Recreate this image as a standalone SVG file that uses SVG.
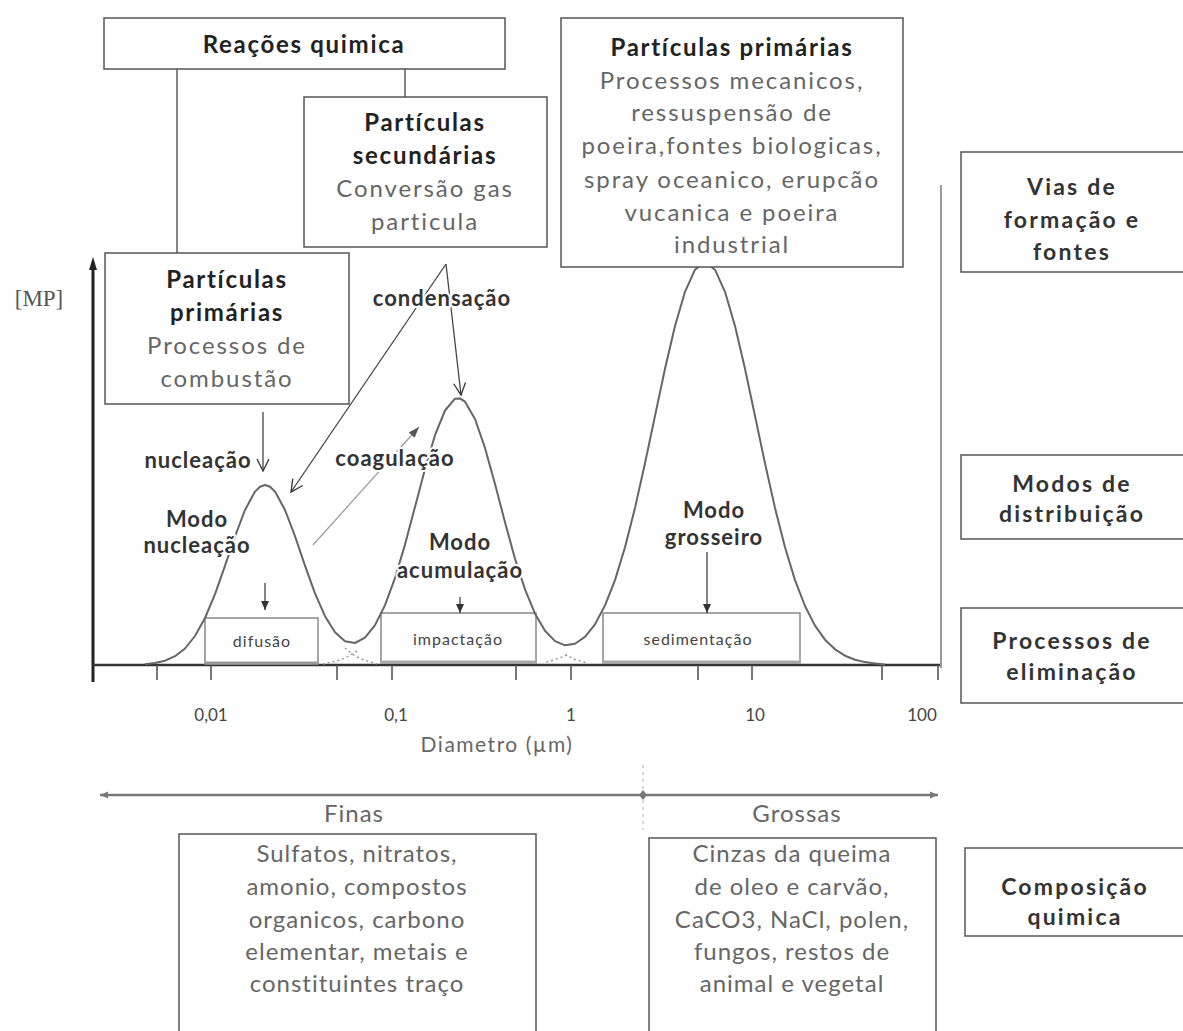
<svg xmlns="http://www.w3.org/2000/svg" width="1183" height="1031" viewBox="0 0 1183 1031">
<style>
  .box{fill:#fff;stroke:#555;stroke-width:1.5}
  .sbox{fill:#fff;stroke:#888;stroke-width:1.5}
  .t{font-family:Lato,"Liberation Sans",sans-serif;text-anchor:middle}
  .b{font-weight:bold;fill:#222;font-size:24px;letter-spacing:1.7px}
  .r{fill:#666;font-size:24px;letter-spacing:1.9px}
  .rb{fill:#666;font-size:24px;letter-spacing:1px}
  .lab{font-weight:bold;fill:#333;font-size:22px;letter-spacing:1px;paint-order:stroke;stroke:#fff;stroke-width:4px}
  .side{font-weight:bold;fill:#333;font-size:23px;letter-spacing:2.2px}
  .small{fill:#444;font-size:16px;letter-spacing:1px}
  .ax{fill:#444;font-size:17px}
  .ln{stroke:#444;stroke-width:1.3;fill:none}
  .tick{stroke:#555;stroke-width:1.6}
</style>
<defs>
  <marker id="fill" markerWidth="10" markerHeight="10" refX="9" refY="5" orient="auto" markerUnits="userSpaceOnUse">
    <path d="M0,1 L9,5 L0,9 Z" fill="#333"/>
  </marker>
  <marker id="open" markerWidth="14" markerHeight="14" refX="13" refY="7" orient="auto" markerUnits="userSpaceOnUse">
    <path d="M1,1 L13,7 L1,13" fill="none" stroke="#333" stroke-width="1.3"/>
  </marker>
  <marker id="grey" markerWidth="12" markerHeight="12" refX="11" refY="6" orient="auto" markerUnits="userSpaceOnUse">
    <path d="M0,2 L11,6 L0,10 Z" fill="#555"/>
  </marker>
  <marker id="end2" markerWidth="10" markerHeight="10" refX="8" refY="5" orient="auto-start-reverse" markerUnits="userSpaceOnUse">
    <path d="M0,1.5 L8,5 L0,8.5 Z" fill="#777"/>
  </marker>
</defs>
<rect width="1183" height="1031" fill="#fff"/>

<!-- axes -->
<g id="axes">
  <line x1="93" y1="266" x2="93" y2="682" stroke="#222" stroke-width="3"/>
  <path d="M93,257 L89,270 L97,270 Z" fill="#222"/>
  <line x1="93" y1="665" x2="941" y2="665" stroke="#333" stroke-width="2.5"/>
  <line x1="941" y1="185" x2="941" y2="668" stroke="#999" stroke-width="2"/>
  <g class="tick">
    <line x1="157" y1="665" x2="157" y2="680"/>
    <line x1="211" y1="665" x2="211" y2="680"/>
    <line x1="337" y1="665" x2="337" y2="680"/>
    <line x1="392" y1="665" x2="392" y2="680"/>
    <line x1="516" y1="665" x2="516" y2="680"/>
    <line x1="571" y1="665" x2="571" y2="680"/>
    <line x1="698" y1="665" x2="698" y2="680"/>
    <line x1="752" y1="665" x2="752" y2="680"/>
    <line x1="882" y1="665" x2="882" y2="680"/>
    <line x1="938" y1="665" x2="938" y2="680"/>
  </g>
  <text class="t ax" x="211" y="721">0,01</text>
  <text class="t ax" x="396" y="721">0,1</text>
  <text class="t ax" x="571" y="721">1</text>
  <text class="t ax" x="755" y="721">10</text>
  <text class="t ax" x="922" y="721">100</text>
  <text class="t" x="497" y="752" font-size="21" fill="#666" letter-spacing="1.5">Diametro (µm)</text>
  <text x="39" y="306" font-family="'Liberation Serif',serif" font-size="23" fill="#555" text-anchor="middle">[MP]</text>
</g>

<!-- removal boxes -->
<g id="difusao">
  <rect class="sbox" x="205" y="618" width="113" height="46"/>
  <line x1="205" y1="663" x2="318" y2="663" stroke="#999" stroke-width="3"/>
  <text class="t small" x="262" y="647">difusão</text>
</g>
<g id="impactacao">
  <rect class="sbox" x="381" y="613" width="155" height="50"/>
  <line x1="381" y1="662" x2="536" y2="662" stroke="#aaa" stroke-width="3"/>
  <text class="t small" x="458" y="645">impactação</text>
</g>
<g id="sedimentacao">
  <rect class="sbox" x="603" y="613" width="197" height="50"/>
  <line x1="603" y1="662" x2="800" y2="662" stroke="#aaa" stroke-width="3"/>
  <text class="t small" x="698" y="645">sedimentação</text>
</g>

<!-- distribution curve -->
<g id="curve">
  <polyline fill="none" stroke="#666" stroke-width="2" stroke-linejoin="round" points="145,664.2 155,663 165,660.7 175,656.2 185,648.5 195,636 205,618 215,594.2 225,565.9 235,536.3 245,510 255,491.6 260,486.7 265,485 270,486.7 275,491.6 285,510 295,536.2 305,565.6 315,593.4 325,616.2 335,632.3 345,641.3 355,643 365,637.7 375,625.1 385,605.2 395,578 405,544.6 415,506.9 425,469 435,435.2 445,410.5 455,398.7 460,398.4 465,401.7 475,419 485,447.9 495,483.9 505,522.2 515,558.7 525,589.4 535,613.7 545,630.8 555,641.1 565,645.3 575,643.8 585,636.9 595,624.3 605,605.4 615,580.1 625,547.2 635,507.9 645,463.3 655,415.9 665,368.7 675,326 685,291.8 695,269.7 705,262 715,269.7 725,291.8 735,326 745,368.7 755,415.9 765,463.3 775,507.9 785,547.2 795,580.1 805,606 815,625.6 825,639.7 835,649.3 845,655.7 855,659.7 865,662.1 875,663.4 885,664.5"/>
  <g fill="none" stroke="#999" stroke-width="1.5" stroke-dasharray="2 3">
    <polyline points="345,648 355,656 365,660.5 377,664"/>
    <polyline points="357,651 345,658 335,661.5 323,664"/>
    <polyline points="565,654.6 575,659.5 587,663"/>
    <polyline points="567,655 555,659.7 543,663"/>
  </g>
</g>

<!-- top boxes -->
<g id="reacoes">
  <rect class="box" x="104" y="18" width="401" height="51"/>
  <text class="t b" x="304" y="53">Reações quimica</text>
</g>
<g id="secundarias">
  <rect class="box" x="304" y="97" width="243" height="150"/>
  <text class="t b" x="425" y="131">Partículas</text>
  <text class="t b" x="425" y="164">secundárias</text>
  <text class="t r" x="425" y="197">Conversão gas</text>
  <text class="t r" x="425" y="230">particula</text>
</g>
<g id="primarias-combustao">
  <rect class="box" x="105" y="253" width="244" height="151"/>
  <text class="t b" x="227" y="288">Partículas</text>
  <text class="t b" x="227" y="321">primárias</text>
  <text class="t r" x="227" y="354">Processos de</text>
  <text class="t r" x="227" y="387">combustão</text>
</g>
<g id="primarias-mecanicos">
  <rect class="box" x="561" y="18" width="342" height="249"/>
  <text class="t b" x="732" y="56">Partículas primárias</text>
  <text class="t r" x="732" y="89">Processos mecanicos,</text>
  <text class="t r" x="732" y="121">ressuspensão de</text>
  <text class="t r" x="732" y="154">poeira,fontes biologicas,</text>
  <text class="t r" x="732" y="188">spray oceanico, erupcão</text>
  <text class="t r" x="732" y="221">vucanica e poeira</text>
  <text class="t r" x="732" y="253">industrial</text>
</g>

<!-- right column -->
<g id="vias">
  <rect class="box" x="961" y="152" width="230" height="120"/>
  <text class="t side" x="1072" y="195">Vias de</text>
  <text class="t side" x="1072" y="228">formação e</text>
  <text class="t side" x="1072" y="260">fontes</text>
</g>
<g id="modos">
  <rect class="box" x="961" y="455" width="230" height="84"/>
  <text class="t side" x="1072" y="492">Modos de</text>
  <text class="t side" x="1072" y="522">distribuição</text>
</g>
<g id="processos">
  <rect class="box" x="961" y="608" width="230" height="95"/>
  <text class="t side" x="1072" y="649">Processos de</text>
  <text class="t side" x="1072" y="680">eliminação</text>
</g>
<g id="composicao">
  <rect class="box" x="965" y="848" width="226" height="88"/>
  <text class="t side" x="1075" y="895">Composição</text>
  <text class="t side" x="1075" y="925">quimica</text>
</g>

<!-- bottom -->
<g id="finas">
  <text class="t rb" x="354" y="822" font-size="26" letter-spacing="3">Finas</text>
  <rect class="box" x="179" y="834" width="357" height="210"/>
  <text class="t rb" x="357" y="862">Sulfatos, nitratos,</text>
  <text class="t rb" x="357" y="895">amonio, compostos</text>
  <text class="t rb" x="357" y="928">organicos, carbono</text>
  <text class="t rb" x="357" y="960">elementar, metais e</text>
  <text class="t rb" x="357" y="992">constituintes traço</text>
</g>
<g id="grossas">
  <text class="t rb" x="797" y="822" font-size="26" letter-spacing="3">Grossas</text>
  <rect class="box" x="649" y="838" width="287" height="210"/>
  <text class="t rb" x="792" y="862">Cinzas da queima</text>
  <text class="t rb" x="792" y="895">de oleo e carvão,</text>
  <text class="t rb" x="792" y="928">CaCO3, NaCl, polen,</text>
  <text class="t rb" x="792" y="960">fungos, restos de</text>
  <text class="t rb" x="792" y="992">animal e vegetal</text>
</g>

<!-- connectors -->
<g id="connectors">
  <line class="ln" x1="177" y1="69" x2="177" y2="253"/>
  <line class="ln" x1="405" y1="69" x2="405" y2="97"/>
  <line class="ln" x1="263" y1="412" x2="263" y2="471" marker-end="url(#open)"/>
  <line class="ln" x1="265" y1="583" x2="265" y2="610" marker-end="url(#fill)"/>
  <line class="ln" x1="460" y1="597" x2="460" y2="613" marker-end="url(#fill)"/>
  <line class="ln" x1="707" y1="552" x2="707" y2="613" marker-end="url(#fill)"/>
  <line class="ln" x1="446" y1="264" x2="291" y2="492" marker-end="url(#open)"/>
  <line class="ln" x1="446" y1="264" x2="461" y2="395" marker-end="url(#open)"/>
  <line x1="313" y1="545" x2="419" y2="427" stroke="#999" stroke-width="1.2" marker-end="url(#grey)"/>
  <line x1="643" y1="765" x2="643" y2="830" stroke="#bbb" stroke-width="1.2" stroke-dasharray="3 4"/>
  <line x1="100" y1="795" x2="938" y2="795" stroke="#777" stroke-width="2.5" marker-start="url(#end2)" marker-end="url(#end2)"/>
  <path d="M643,790 L647,795 L643,800 L639,795 Z" fill="#777"/>
</g>

<!-- labels -->
<g id="labels">
  <text class="t lab" x="442" y="306">condensação</text>
  <text class="t lab" x="198" y="468">nucleação</text>
  <text class="t lab" x="395" y="466">coagulação</text>
  <text class="t lab" x="197" y="527">Modo</text>
  <text class="t lab" x="197" y="553">nucleação</text>
  <text class="t lab" x="460" y="550">Modo</text>
  <text class="t lab" x="460" y="578">acumulação</text>
  <text class="t lab" x="714" y="518">Modo</text>
  <text class="t lab" x="714" y="545">grosseiro</text>
</g>
</svg>
